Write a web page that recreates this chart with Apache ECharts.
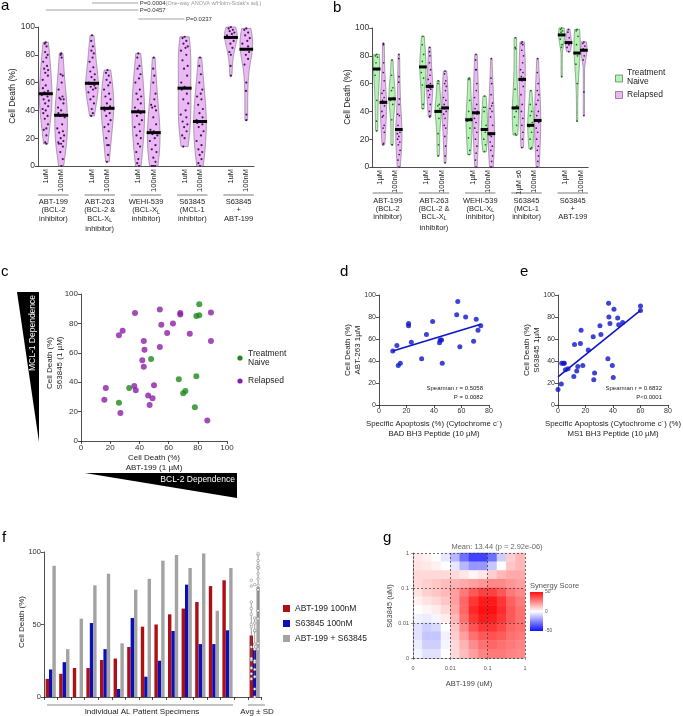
<!DOCTYPE html>
<html>
<head>
<meta charset="utf-8">
<script src="https://cdn.jsdelivr.net/npm/echarts@6/dist/echarts.min.js"></script>
<style>
  html, body { margin: 0; padding: 0; background: #fff; }
  #chart { width: 683px; height: 716px; }
</style>
</head>
<body>
<div id="chart"></div>
<script>
// ---------- data ----------
// a: cell death (%) per drug / dose, all patients
const aTicks = ['1uM', '100nM', '', '1uM', '100nM', '', '1uM', '100nM', '', '1uM', '100nM', '', '1uM', '100nM'];
const violinSlots = [0, 1, 3, 4, 6, 7, 9, 10, 12, 13];
const aViolins = [
  [89, 88, 86, 82, 80, 78, 75, 72, 70, 69, 67, 65, 62, 58, 56, 54, 53, 52, 52, 51, 50, 48, 47, 45, 43, 41, 40, 38, 36, 34, 30, 27, 26, 22, 17, 16],
  [81, 80, 78, 66, 65, 60, 55, 50, 49, 48, 48, 45, 42, 40, 38, 37, 36, 35, 30, 27, 25, 24, 22, 20, 18, 17, 16, 16, 14, 10, 5, 0],
  [94, 90, 86, 83, 81, 78, 75, 71, 68, 66, 64, 62, 60, 59, 59, 58, 57, 56, 55, 53, 50, 48, 45, 41, 38, 36],
  [69, 67, 65, 62, 60, 58, 55, 52, 50, 48, 45, 43, 42, 41, 40, 38, 36, 33, 30, 28, 25, 20, 15, 15, 8, 3],
  [81, 78, 72, 70, 66, 63, 60, 55, 52, 50, 48, 45, 42, 40, 39, 38, 36, 33, 30, 28, 25, 22, 20, 16, 14, 10, 5, 2, 0],
  [78, 70, 65, 60, 52, 48, 44, 43, 42, 40, 35, 30, 26, 25, 24, 24, 23, 22, 20, 18, 15, 12, 10, 6, 3, 0, 0, 0, 0],
  [93, 92, 90, 88, 86, 85, 83, 80, 76, 72, 70, 65, 60, 57, 55, 52, 48, 45, 40, 37, 35, 32, 30, 28, 25, 22, 20, 14],
  [78, 72, 66, 60, 55, 52, 50, 48, 44, 41, 38, 35, 33, 32, 31, 30, 28, 25, 22, 18, 15, 12, 10, 8, 5, 2, 0],
  [100, 99, 98, 97, 96, 95, 94, 93, 92, 90, 88, 85, 82, 80, 72, 65],
  [99, 98, 96, 94, 92, 90, 88, 86, 84, 82, 80, 77, 73, 60, 54, 37, 33]
];

// b: same split by treatment naive / relapsed
const bTicks = ['1µM', '100nM', '', '1µM', '100nM', '', '1µM', '100nM', '', '1µM s6', '100nM', '', '1µM', '100nM'];
const bNaive = [
  [81, 80, 79, 75, 71, 70, 66, 48, 33, 26],
  [77, 66, 57, 55, 50, 49, 48, 45, 34, 16, 16],
  [94, 88, 81, 76, 72, 72, 68, 64, 59, 45, 42],
  [62, 60, 45, 44, 42, 40, 40, 35, 24, 16, 8],
  [64, 63, 48, 40, 35, 34, 33, 28, 21, 12, 9],
  [51, 43, 43, 40, 30, 27, 27, 25, 20, 16, 11],
  [93, 86, 85, 56, 44, 43, 42, 40, 36, 30, 24, 23],
  [55, 45, 40, 37, 32, 30, 29, 25, 20, 14, 13],
  [100, 99, 98, 97, 95, 95, 92, 88, 86, 65],
  [99, 98, 94, 88, 82, 80, 74, 60, 33]
];
const bRelapsed = [
  [89, 88, 75, 68, 62, 55, 53, 50, 48, 47, 46, 44, 40, 37, 36, 30, 28, 25, 17, 16],
  [81, 78, 65, 61, 49, 45, 38, 37, 30, 27, 27, 25, 24, 22, 20, 18, 16, 12, 9, 5, 0],
  [86, 83, 80, 75, 70, 66, 63, 60, 59, 58, 57, 56, 55, 52, 50, 45, 40, 37, 36],
  [69, 67, 62, 60, 58, 55, 50, 48, 45, 43, 42, 40, 38, 35, 30, 28, 22, 15, 8, 3],
  [81, 77, 70, 70, 60, 55, 50, 45, 42, 40, 39, 38, 35, 32, 28, 25, 20, 15, 10, 5, 0],
  [78, 64, 60, 52, 46, 44, 42, 40, 36, 30, 24, 24, 23, 22, 18, 15, 12, 8, 4, 0, 0],
  [90, 89, 88, 84, 80, 75, 70, 68, 65, 64, 62, 58, 52, 45, 40, 35, 30, 25, 20, 14],
  [78, 68, 60, 55, 52, 48, 45, 40, 37, 34, 33, 32, 28, 25, 20, 15, 12, 8, 4, 0],
  [99, 97, 93, 90, 89, 88, 86, 83],
  [90, 89, 87, 85, 84, 80, 77, 54, 37]
];

const drugGroups = [
  ['ABT-199', '(BCL-2', 'inhibitor)'],
  ['ABT-263', '(BCL-2 &', 'BCL-X{s|L}', 'inhibitor)'],
  ['WEHI-539', '(BCL-X{s|L}', 'inhibitor)'],
  ['S63845', '(MCL-1', 'inhibitor)'],
  ['S63845', '+', 'ABT-199']
];

// c: ABT-199 (x) vs S63845 (y) cell death
const cNaive = [[81, 93], [79, 85], [81, 85.5], [48, 55.7], [67, 42], [79, 44], [33, 36], [26, 26], [70, 32.5], [71.5, 34], [78, 23]];
const cRelapsed = [[37, 87], [54, 89.5], [68, 87], [68, 86], [89, 87.5], [28.5, 75], [26, 72], [55, 79], [63, 80], [59, 73.5],
  [74.5, 73], [89, 68], [43, 68], [43.5, 62], [54, 64], [42, 55], [43, 50.5], [36.5, 37.5], [37.5, 34.5], [50, 38],
  [17, 36], [16, 28], [46, 31], [49, 29], [47, 24.5], [27, 19], [86.5, 14]];

// d: BAD BH3 apoptosis vs ABT-263 cell death
const dPoints = [[10, 49], [13, 54], [14, 36], [15.5, 38], [21.5, 74], [21.5, 72], [23.5, 57], [31, 42], [34.5, 64], [39, 76],
  [44, 56.5], [44.5, 59], [45.5, 59], [46, 38], [56.5, 82], [57.3, 94], [58.8, 53], [63, 80], [68.8, 58], [70.7, 78], [72, 68], [74, 72]];
const dFit = [[10, 49], [74, 73.5]];

// e: MS1 BH3 apoptosis vs S63845 cell death
const ePoints = [[0, 14], [2.4, 19], [2.7, 38], [4.6, 38], [5.4, 32], [7.3, 33], [4, 38], [12, 55], [11.5, 26], [13.6, 31], [14.4, 35],
  [16.8, 68], [16.3, 56], [18, 36], [22, 50], [25.6, 62], [26, 23], [26.6, 29], [30.5, 72], [31.2, 64], [36.3, 42], [36.8, 92.5],
  [37, 80], [37.8, 74], [39.5, 36], [40.2, 25], [40.7, 87], [43.4, 79], [44.1, 73], [47, 75], [60, 90], [60, 86]];
const eFit = [[0, 25.5], [60, 86]];

// f: individual patients, 100 nM single agents and combination
const fPatients = ['P1', 'P2', 'P3', 'P4', 'P5', 'P6', 'P7', 'P8', 'P9', 'P10', 'P11', 'P12', 'P13', 'P14', '', 'Avg'];
const fAbt = [12.5, 16, 20, 20, 25.5, 26.5, 34.5, 48.5, 50, 57, 61, 65.5, 76.5, 80.5];
const fS63 = [19, 24, 0, 51, 33, 5.5, 54.5, 14, 25, 45.5, 77.5, 36.5, 36.5, 46];
const fCombo = [90.5, 33, 54, 77, 85, 37, 74, 81.5, 94, 98, 89, 99, 59.5, 89];

// g: synergy landscape (rows top -> bottom, columns left -> right)
const gDoses = ['0', '0.01', '0.1', '1'];
const gSynergy = [
  [5, 3, 0, -5, -15, -30, -40, -40, -30, -10, 10, 15],
  [6, 5, 3, 0, -5, -15, -22, -22, -12, 0, 12, 15],
  [8, 8, 8, 8, 8, 5, 2, 5, 10, 15, 18, 18],
  [8, 10, 12, 14, 16, 18, 20, 22, 25, 25, 22, 20],
  [6, 10, 12, 15, 20, 28, 35, 40, 40, 35, 28, 25],
  [3, 6, 8, 12, 20, 32, 42, 48, 48, 42, 33, 28],
  [0, 2, 4, 8, 18, 32, 45, 50, 50, 44, 35, 30],
  [-3, -4, -2, 4, 15, 30, 42, 48, 47, 42, 35, 30],
  [-6, -10, -8, 0, 12, 25, 36, 42, 42, 38, 32, 30],
  [-6, -12, -12, -3, 10, 20, 30, 35, 36, 34, 30, 28],
  [-4, -10, -10, -2, 8, 16, 24, 30, 32, 30, 28, 26],
  [-2, -6, -6, 0, 8, 14, 20, 26, 28, 28, 26, 25]
];

// ---------- helpers ----------
const FONT = '"Liberation Sans", Arial, Helvetica, sans-serif';
const jit = [0, -0.55, 0.45, -0.25, 0.7, 0.2, -0.75, 0.35, -0.4, 0.6, -0.1, 0.5, -0.65];

function violinShape(vals) {
  const s = vals.slice().sort((a, b) => a - b);
  const n = s.length;
  const mean = s.reduce((a, b) => a + b, 0) / n;
  const sd = Math.sqrt(s.reduce((a, b) => a + (b - mean) * (b - mean), 0) / (n - 1));
  const q = p => { const k = (n - 1) * p, f = Math.floor(k); return s[f] + (s[Math.min(f + 1, n - 1)] - s[f]) * (k - f); };
  const iqr = q(0.75) - q(0.25);
  // smoother kernel than plain Silverman, closer to the reference outlines
  let h = 1.25 * Math.min(sd, iqr > 0 ? iqr / 1.34 : sd) * Math.pow(n, -0.2);
  if (!(h > 0)) h = 3;
  const lo = s[0], hi = s[n - 1], steps = 40;
  const ys = [], ds = [];
  for (let i = 0; i <= steps; i++) {
    const y = lo + (hi - lo) * i / steps;
    let d = 0;
    s.forEach(v => { const z = (y - v) / h; d += Math.exp(-0.5 * z * z); });
    ys.push(y); ds.push(d);
  }
  const m = Math.max.apply(null, ds);
  return { ys, ds: ds.map(d => d / m), median: q(0.5), lo, hi };
}
function widthAt(sh, v) {
  if (sh.hi === sh.lo) return 1;
  const t = (v - sh.lo) / (sh.hi - sh.lo) * (sh.ys.length - 1);
  const i = Math.max(0, Math.min(sh.ys.length - 2, Math.floor(t)));
  const f = t - i;
  return sh.ds[i] * (1 - f) + sh.ds[i + 1] * f;
}

function violinSeries(grid, list, offsetPx, halfMax, fill, stroke, dotColor, dotR) {
  const shapes = list.map(violinShape);
  return {
    type: 'custom', xAxisIndex: grid, yAxisIndex: grid, z: 3,
    data: list.map((v, i) => [violinSlots[i], shapes[i].median, i]),
    encode: { x: 0, y: 1 },
    renderItem: function (params, api) {
      const i = api.value(2), slot = api.value(0), sh = shapes[i];
      const cx = api.coord([slot, 0])[0] + offsetPx;
      const L = [], R = [];
      for (let k = 0; k < sh.ys.length; k++) {
        const py = api.coord([slot, sh.ys[k]])[1];
        const w = Math.max(sh.ds[k] * halfMax, 0.6);
        L.push([cx - w, py]); R.push([cx + w, py]);
      }
      const kids = [{ type: 'polygon', shape: { points: L.concat(R.reverse()) }, style: { fill: fill, stroke: stroke, lineWidth: 0.7 } }];
      list[i].forEach((v, j) => {
        const py = api.coord([slot, v])[1];
        const w = Math.max(widthAt(sh, v) * halfMax - dotR, 0);
        kids.push({ type: 'circle', shape: { cx: cx + jit[j % jit.length] * w, cy: py, r: dotR }, style: { fill: dotColor } });
      });
      const my = api.coord([slot, sh.median])[1];
      const mw = widthAt(sh, sh.median) * halfMax + 0.8;
      kids.push({ type: 'rect', shape: { x: cx - mw, y: my - 1.5, width: 2 * mw, height: 3 }, style: { fill: '#000' } });
      return { type: 'group', children: kids };
    }
  };
}

function valAxis(grid, min, max, interval, fs, extra) {
  return Object.assign({
    type: 'value', gridIndex: grid, min: min, max: max, interval: interval,
    axisLine: { show: true, lineStyle: { color: '#222', width: 0.8 } },
    axisTick: { show: true, length: 3, lineStyle: { color: '#222', width: 0.8 } },
    axisLabel: { fontSize: fs, color: '#333', fontFamily: FONT, margin: 3 },
    splitLine: { show: false }
  }, extra || {});
}
function catAxis(grid, data, extra) {
  return Object.assign({
    type: 'category', gridIndex: grid, data: data,
    axisLine: { show: true, lineStyle: { color: '#222', width: 0.8 } },
    axisTick: { show: false },
    axisLabel: { show: false },
    splitLine: { show: false }
  }, extra || {});
}

const graphics = [];
function txt(x, y, s, o) {
  o = o || {};
  graphics.push({
    type: 'text', x: x, y: y, rotation: o.rot || 0, z: 10,
    style: {
      text: s, fontSize: o.fs || 8, fill: o.color || '#222', fontFamily: FONT,
      align: o.align || 'center', verticalAlign: o.va || 'middle', fontStyle: o.style || 'normal',
      rich: o.rich
    }
  });
}
function hline(x1, x2, y, color, w) {
  graphics.push({ type: 'line', z: 10, shape: { x1: x1, y1: y, x2: x2, y2: y }, style: { stroke: color || '#444', lineWidth: w || 0.7 } });
}
function box(x, y, w, h, fill, stroke) {
  graphics.push({ type: 'rect', z: 10, shape: { x: x, y: y, width: w, height: h }, style: { fill: fill, stroke: stroke || null, lineWidth: 0.7 } });
}
function dot(x, y, r, fill) {
  graphics.push({ type: 'circle', z: 10, shape: { cx: x, cy: y, r: r }, style: { fill: fill } });
}
const subRich = { s: { fontSize: 5, fontFamily: FONT, fill: '#222', padding: [4, 0, 0, 0] } };

// ---------- chart ----------
const chart = echarts.init(document.getElementById('chart'), null, { renderer: 'canvas' });

const grids = [
  { left: 38, top: 27, width: 216, height: 139 },        // a
  { left: 372.3, top: 28, width: 215.9, height: 139 },   // b
  { left: 81, top: 294, width: 146, height: 147 },       // c
  { left: 379, top: 295, width: 110, height: 110 },      // d
  { left: 558, top: 295, width: 110, height: 110 },      // e
  { left: 43.9, top: 552, width: 217.6, height: 145 },   // f
  { left: 413, top: 553, width: 112, height: 105 },      // g heat
  { left: 413, top: 553, width: 112, height: 105 }       // g axes
].map(g => Object.assign({ outerBoundsMode: 'none' }, g));

const rotLabel = { show: true, rotate: 90, interval: 0, fontSize: 7.5, color: '#222', fontFamily: FONT, margin: 3 };
const gIdx = gSynergy[0].map((v, i) => i);
const gAxisLine = { show: true, lineStyle: { color: '#444', width: 0.7, type: [2, 2] } };

const xAxes = [
  catAxis(0, aTicks, { axisLabel: rotLabel }),
  catAxis(1, bTicks, { axisLabel: rotLabel }),
  valAxis(2, 0, 100, 20, 8),
  valAxis(3, 0, 80, 20, 7),
  valAxis(4, 0, 80, 20, 7),
  catAxis(5, fPatients, { axisTick: { show: true, interval: 0, length: 3, lineStyle: { color: '#222', width: 0.8 } } }),
  { type: 'category', gridIndex: 6, data: gIdx, show: false },
  { type: 'value', gridIndex: 7, min: 0, max: 3, interval: 1, z: 5,
    axisLine: gAxisLine, axisTick: { show: true, length: 2, lineStyle: { color: '#555', width: 0.6 } },
    axisLabel: { fontSize: 5.5, color: '#555', fontFamily: FONT, margin: 7, formatter: v => gDoses[v] },
    splitLine: { show: true, lineStyle: { color: '#333', width: 0.7, type: [2, 2] } } }
];
const yAxes = [
  valAxis(0, 0, 100, 20, 8.5),
  valAxis(1, 0, 100, 20, 8.5),
  valAxis(2, 0, 100, 20, 8),
  valAxis(3, 0, 100, 20, 7),
  valAxis(4, 0, 100, 20, 7),
  valAxis(5, 0, 100, 50, 7.5),
  { type: 'category', gridIndex: 6, data: gIdx, show: false },
  { type: 'value', gridIndex: 7, min: 0, max: 3, interval: 1, z: 5,
    axisLine: gAxisLine, axisTick: { show: true, length: 2, lineStyle: { color: '#555', width: 0.6 } },
    axisLabel: { fontSize: 5.5, color: '#555', fontFamily: FONT, margin: 4, formatter: v => gDoses[v] },
    splitLine: { show: true, lineStyle: { color: '#333', width: 0.7, type: [2, 2] } } }
];

const mean = a => a.reduce((s, v) => s + v, 0) / a.length;
const sdev = a => { const m = mean(a); return Math.sqrt(a.reduce((s, v) => s + (v - m) * (v - m), 0) / (a.length - 1)); };
const fSets = [fAbt, fS63, fCombo];
const fColors = ['#ad0f14', '#0b0fb8', '#a3a3a3'];
const fNames = ['ABT-199 100nM', 'S63845 100nM', 'ABT-199 + S63845'];

const heatData = [];
gSynergy.forEach((row, r) => row.forEach((v, c) => heatData.push([c, gSynergy.length - 1 - r, v])));

const series = [
  violinSeries(0, aViolins, 0, 6.3, '#eab8f3', '#8c7a91', '#4a0f66', 1.1),
  violinSeries(1, bNaive, -3.4, 3.1, '#b6f2b6', '#6c8c6c', '#0f6e12', 0.85),
  violinSeries(1, bRelapsed, 3.4, 3.1, '#eab8f3', '#8c7a91', '#4a0f66', 0.85),
  { type: 'scatter', xAxisIndex: 2, yAxisIndex: 2, data: cRelapsed, symbolSize: 6, itemStyle: { color: '#8c1fa8' } },
  { type: 'scatter', xAxisIndex: 2, yAxisIndex: 2, data: cNaive, symbolSize: 6, itemStyle: { color: '#1c8a1c' } },
  { type: 'scatter', xAxisIndex: 3, yAxisIndex: 3, data: dPoints, symbolSize: 5, itemStyle: { color: '#0d14cc' } },
  { type: 'line', xAxisIndex: 3, yAxisIndex: 3, data: dFit, symbol: 'none', lineStyle: { color: '#0d14cc', width: 1.6 } },
  { type: 'scatter', xAxisIndex: 4, yAxisIndex: 4, data: ePoints, symbolSize: 5, itemStyle: { color: '#0d14cc' } },
  { type: 'line', xAxisIndex: 4, yAxisIndex: 4, data: eFit, symbol: 'none', lineStyle: { color: '#0d14cc', width: 1.6 } }
];
fSets.forEach((vals, s) => {
  series.push({
    type: 'bar', xAxisIndex: 5, yAxisIndex: 5, barWidth: 3.4, barGap: '0%',
    data: vals.concat([null, mean(vals)]),
    itemStyle: { color: fColors[s] }
  });
});
series.push({
  type: 'custom', xAxisIndex: 5, yAxisIndex: 5, z: 4,
  data: [[15, 50]], encode: { x: 0, y: 1 },
  renderItem: function (params, api) {
    const kids = [];
    const base = api.coord([15, 0]);
    [-3.4, 0, 3.4].forEach((off, s) => {
      const vals = fSets[s], m = mean(vals), sd = sdev(vals);
      const x = base[0] + off;
      const top = api.coord([15, m + sd])[1], bot = api.coord([15, Math.max(m - sd, 0)])[1];
      kids.push({ type: 'line', shape: { x1: x, y1: top, x2: x, y2: bot }, style: { stroke: '#666', lineWidth: 0.6 } });
      vals.forEach(v => {
        kids.push({ type: 'circle', shape: { cx: x, cy: api.coord([15, v])[1], r: 1.3 }, style: { fill: '#fff', stroke: '#777', lineWidth: 0.5 } });
      });
    });
    return { type: 'group', children: kids };
  }
});
series.push({ type: 'heatmap', xAxisIndex: 6, yAxisIndex: 6, data: heatData, z: 1 });
series.push({ type: 'scatter', xAxisIndex: 7, yAxisIndex: 7, data: [], silent: true });

// ---------- annotations ----------
// panel letters
txt(1, 6, 'a', { fs: 15, align: 'left', color: '#000' });
txt(333, 8, 'b', { fs: 15, align: 'left', color: '#000' });
txt(1, 272, 'c', { fs: 15, align: 'left', color: '#000' });
txt(340, 272, 'd', { fs: 15, align: 'left', color: '#000' });
txt(520, 272, 'e', { fs: 15, align: 'left', color: '#000' });
txt(2, 538, 'f', { fs: 15, align: 'left', color: '#000' });
txt(383, 538, 'g', { fs: 15, align: 'left', color: '#000' });

// y-axis titles a, b
txt(13, 96, 'Cell Death (%)', { rot: Math.PI / 2, fs: 8.5 });
txt(348, 97, 'Cell Death (%)', { rot: Math.PI / 2, fs: 8.5 });

// legend b
box(615.5, 75, 7, 7, '#b6f2b6', '#4d7a4d');
txt(627, 73, 'Treatment', { fs: 8.5, align: 'left' });
txt(627, 82, 'Naive', { fs: 8.5, align: 'left' });
box(615.5, 91.5, 7, 7, '#eab8f3', '#7a5a80');
txt(627, 95, 'Relapsed', { fs: 8.5, align: 'left' });

// c titles, legend, dependence triangles
txt(50, 363, 'Cell Death (%)', { rot: Math.PI / 2, fs: 8 });
txt(60, 363, 'S63845 (1 µM)', { rot: Math.PI / 2, fs: 8 });
txt(154, 458, 'Cell Death (%)', { fs: 8 });
txt(154, 468, 'ABT-199 (1 µM)', { fs: 8 });
dot(240, 358, 2.6, '#1c8a1c');
txt(248, 353.5, 'Treatment', { fs: 8.5, align: 'left' });
txt(248, 362.5, 'Naive', { fs: 8.5, align: 'left' });
dot(240, 381, 2.6, '#8c1fa8');
txt(248, 381, 'Relapsed', { fs: 8.5, align: 'left' });
graphics.push({ type: 'polygon', z: 9, shape: { points: [[17, 292], [39, 292], [39, 442]] }, style: { fill: '#000' } });
txt(33, 333, 'MCL-1 Dependence', { rot: Math.PI / 2, fs: 8.5, color: '#fff' });
graphics.push({ type: 'polygon', z: 9, shape: { points: [[85, 473], [237, 473], [237, 498]] }, style: { fill: '#000' } });
txt(235, 479.5, 'BCL-2 Dependence', { fs: 8.5, color: '#fff', align: 'right' });

// d, e titles and stats
txt(348, 350, 'Cell Death (%)', { rot: Math.PI / 2, fs: 8 });
txt(358, 350, 'ABT-263 1µM', { rot: Math.PI / 2, fs: 8 });
txt(434, 424, 'Specific Apoptosis (%) (Cytochrome c´)', { fs: 7.8 });
txt(434, 434, 'BAD BH3 Peptide (10 µM)', { fs: 7.8 });
txt(483, 388, 'Spearman {i|r} = 0.5058', { fs: 6, align: 'right', rich: { i: { fontStyle: 'italic', fontSize: 6, fontFamily: FONT, fill: '#222' } } });
txt(483, 397, 'P = 0.0082', { fs: 6, align: 'right' });
txt(527, 350, 'Cell Death (%)', { rot: Math.PI / 2, fs: 8 });
txt(537, 350, 'S63845 1µM', { rot: Math.PI / 2, fs: 8 });
txt(613, 424, 'Specific Apoptosis (Cytochrome c´) (%)', { fs: 7.8 });
txt(613, 434, 'MS1 BH3 Peptide (10 µM)', { fs: 7.8 });
txt(662, 388, 'Spearman {i|r} = 0.6832', { fs: 6, align: 'right', rich: { i: { fontStyle: 'italic', fontSize: 6, fontFamily: FONT, fill: '#222' } } });
txt(662, 397, 'P<0.0001', { fs: 6, align: 'right' });

// f titles, legend, brackets
txt(22, 622, 'Cell Death (%)', { rot: Math.PI / 2, fs: 8 });
fColors.forEach((c, i) => {
  box(283, 605 + 15 * i, 7, 7, c);
  txt(295, 608.5 + 15 * i, fNames[i], { fs: 8.5, align: 'left' });
});
hline(47, 233, 705, '#555', 0.7);
txt(142, 712, 'Individual AL Patient Specimens', { fs: 8 });
hline(248, 265, 705, '#555', 0.7);
txt(257, 712, 'Avg ± SD', { fs: 8 });

// g titles and colour bar
txt(497, 547, 'Mean: 13.44 (p = 2.92e-06)', { fs: 7.5, color: '#666' });
txt(469, 684, 'ABT-199 (uM)', { fs: 7.5, color: '#444' });
txt(390, 606, 'S63845 (uM)', { rot: Math.PI / 2, fs: 7.5, color: '#444' });
txt(530, 586, 'Synergy Score', { fs: 7.5, align: 'left', color: '#555' });
graphics.push({
  type: 'rect', z: 10, shape: { x: 530, y: 592, width: 13, height: 39 },
  style: { fill: new echarts.graphic.LinearGradient(0, 0, 0, 1, [
    { offset: 0, color: '#ff1010' }, { offset: 0.5, color: '#ffffff' }, { offset: 1, color: '#1010ff' }]) }
});
txt(545, 592, '50', { fs: 5, align: 'left', color: '#555' });
txt(545, 611.5, '0', { fs: 5, align: 'left', color: '#555' });
txt(545, 631, '-50', { fs: 5, align: 'left', color: '#555' });

chart.setOption({
  animation: false,
  backgroundColor: '#fff',
  textStyle: { fontFamily: FONT },
  grid: grids,
  xAxis: xAxes,
  yAxis: yAxes,
  visualMap: { show: false, type: 'continuous', seriesIndex: series.length - 2, min: -50, max: 50, inRange: { color: ['#1010ff', '#ffffff', '#ff1010'] } },
  series: series
});

// labels that sit on the data axes (groups and p-value brackets)
function px(grid, slot) { return chart.convertToPixel({ xAxisIndex: grid }, slot); }
const extra = [];
function groupLabels(grid, yLine, yText) {
  drugGroups.forEach((lines, g) => {
    const x1 = px(grid, g * 3), x2 = px(grid, g * 3 + 1);
    const half = (x2 - x1) / 2 + 7.5;
    const cx = (x1 + x2) / 2;
    extra.push({ type: 'line', z: 10, shape: { x1: cx - half, y1: yLine, x2: cx + half, y2: yLine }, style: { stroke: '#444', lineWidth: 0.7 } });
    lines.forEach((t, k) => {
      const y = k < 3 ? yText + 8.3 * k : yText + 8.3 * 2 + 10.5;
      extra.push({ type: 'text', z: 10, x: cx, y: y, style: { text: t, fontSize: 7.5, fill: '#222', fontFamily: FONT, align: 'center', verticalAlign: 'middle', rich: subRich } });
    });
  });
}
groupLabels(0, 195, 202);
groupLabels(1, 193, 200.5);
function bracket(s1, s2, y, label, rich) {
  const x1 = px(0, s1), x2 = px(0, s2);
  extra.push({ type: 'line', z: 10, shape: { x1: x1, y1: y, x2: x2, y2: y }, style: { stroke: '#666', lineWidth: 0.6 } });
  extra.push({ type: 'text', z: 10, x: x2 + 1.5, y: y, style: { text: label, fontSize: 6, fill: '#333', fontFamily: FONT, align: 'left', verticalAlign: 'middle', rich: rich } });
}
bracket(3, 6, 3, '{b|P=0.0004}{g|(One-way ANOVA w/Holm-Sidak\'s adj.)}', {
  b: { fontSize: 6, fill: '#333', fontFamily: FONT }, g: { fontSize: 5.5, fill: '#999', fontFamily: FONT }
});
bracket(0, 6, 10, 'P=0.0457');
bracket(6, 9, 19, 'P=0.0237');

chart.setOption({ graphic: graphics.concat(extra) });
</script>
</body>
</html>
